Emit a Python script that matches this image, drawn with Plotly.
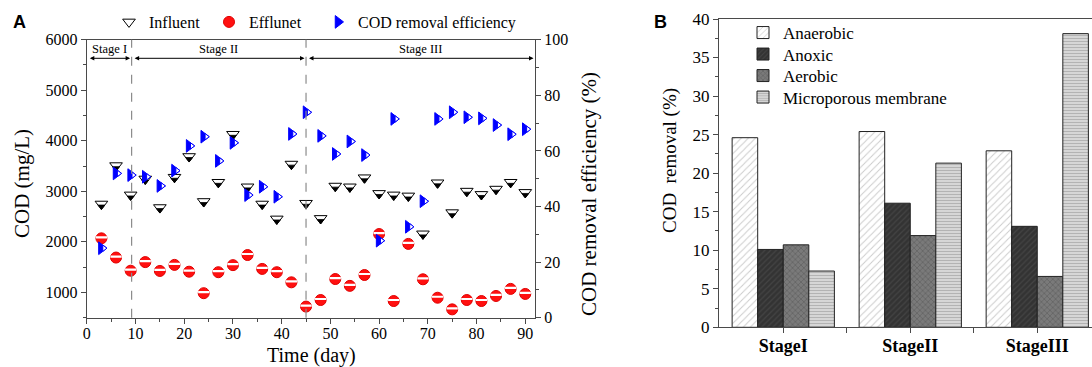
import plotly.graph_objects as go

# ---------------- data ----------------
days = [3, 6, 9, 12, 15, 18, 21, 24, 27, 30, 33, 36, 39, 42, 45,
        48, 51, 54, 57, 60, 63, 66, 69, 72, 75, 78, 81, 84, 87, 90]
influent = [2750, 3510, 2930, 3245, 2680, 3280, 3690, 2800, 3180, 4130, 3090, 2750, 2455, 3540, 2765,
            2465, 3105, 3090, 3270, 2960, 2930, 2910, 2160, 3170, 2580, 3005, 2940, 3045, 3180, 2980]
effluent = [2070, 1690, 1430, 1600, 1425, 1545, 1410, 985, 1400, 1540, 1740, 1465, 1400, 1200, 720,
            850, 1265, 1130, 1345, 2155, 830, 1960, 1260, 895, 665, 850, 830, 930, 1070, 970]
removal = [25.0, 51.9, 51.3, 50.7, 47.4, 52.9, 61.8, 65.1, 56.4, 62.9, 44.1, 47.1, 43.5, 66.1, 73.9,
           65.4, 58.9, 63.4, 58.5, 27.7, 71.5, 32.7, 41.9, 71.5, 73.9, 72.1, 71.7, 69.3, 66.0, 67.8]

stage_names = ["Stage I", "Stage II", "Stage III"]
stage_bounds = [0, 9.2, 45, 92]

stages = ["StageI", "StageII", "StageIII"]
anaerobic = [24.6, 25.4, 22.9]
anoxic = [10.1, 16.1, 13.1]
aerobic = [10.7, 11.9, 6.6]
membrane = [7.3, 21.3, 38.1]

# ---------------- geometry ----------------
W, H = 1092, 367
A_left, A_right, A_top, A_bot = 86.8, 535.0, 39.7, 317.7
B_left, B_right, B_top, B_bot = 719.0, 1092.0, 19.0, 327.3
XR = [0, 92]
YR = [500, 6000]
Y2R = [0, 100]
px_x = (XR[1] - XR[0]) / (A_right - A_left)
px_y = (YR[1] - YR[0]) / (A_bot - A_top)

SERIF = "Liberation Serif"
SANS = "Liberation Sans"
AX = "#4a4a4a"


def px(x):
    return x / W


def py(y):
    return 1 - y / H


fig = go.Figure()

# Influent: open triangle with black lower part
fig.add_trace(go.Scatter(
    x=days, y=influent, mode="markers", name="Influent", legend="legend",
    marker=dict(symbol="triangle-down", size=11, color="white",
                line=dict(color="black", width=1))))
fig.add_trace(go.Scatter(
    x=days, y=[v - 2.6 * px_y for v in influent], mode="markers", showlegend=False,
    hoverinfo="skip",
    marker=dict(symbol="triangle-down", size=6, color="black",
                line=dict(color="black", width=0.8))))

# Effluent: red circle with white band
fig.add_trace(go.Scatter(
    x=days, y=effluent, mode="markers", name="Efflunet", legend="legend3",
    marker=dict(symbol="circle", size=11, color="#ff1010",
                line=dict(color="#e00000", width=1))))
fig.add_trace(go.Scatter(
    x=days, y=[v + 1.0 * px_y for v in effluent], mode="markers", showlegend=False,
    hoverinfo="skip",
    marker=dict(symbol="line-ew", size=8, color="white",
                line=dict(color="white", width=2.2))))

# COD removal efficiency: blue triangle, left half filled
fig.add_trace(go.Scatter(
    x=days, y=removal, mode="markers", name="COD removal efficiency", legend="legend4",
    yaxis="y2",
    marker=dict(symbol="triangle-right", size=11, color="#0000ff",
                line=dict(color="#0000ff", width=1))))
fig.add_trace(go.Scatter(
    x=[d + 2.75 * px_x for d in days], y=removal, mode="markers", showlegend=False,
    yaxis="y2", hoverinfo="skip",
    marker=dict(symbol="triangle-right", size=5.5, color="white",
                line=dict(color="#0000ff", width=1))))

# ---------------- panel B bars ----------------
bar_specs = [
    ("Anaerobic", anaerobic, dict(shape="/", bgcolor="white", fgcolor="#9a9a9a", size=5, solidity=0.2)),
    ("Anoxic", anoxic, dict(shape="/", bgcolor="#333333", fgcolor="#555555", size=4, solidity=0.3)),
    ("Aerobic", aerobic, dict(shape="x", bgcolor="#7a7a7a", fgcolor="#4a4a4a", size=4, solidity=0.35)),
    ("Microporous membrane", membrane, dict(shape="-", bgcolor="#d6d6d6", fgcolor="#8a8a8a", size=3, solidity=0.3)),
]
bar_legends = ["legend2", "legend5", "legend6", "legend7"]
for (name, vals, pat), lg in zip(bar_specs, bar_legends):
    fig.add_trace(go.Bar(
        x=[0, 1, 2], y=vals, name=name, xaxis="x2", yaxis="y3", legend=lg,
        marker=dict(color=pat["bgcolor"], line=dict(color="#222222", width=1), pattern=pat)))

# ---------------- shapes & annotations ----------------
shapes = []
for b in stage_bounds[1:-1]:
    shapes.append(dict(type="line", xref="x", yref="y domain", x0=b, x1=b, y0=0, y1=1,
                       line=dict(color="#8c8c8c", width=1.2, dash="dash")))

annotations = []
arrow_y = (A_bot - 58.3) / (A_bot - A_top)
text_y = (A_bot - 48.5) / (A_bot - A_top)
for i, nm in enumerate(stage_names):
    x0, x1 = stage_bounds[i], stage_bounds[i + 1]
    annotations.append(dict(x=(x0 + x1) / 2, y=text_y, xref="x", yref="y domain", text=nm,
                            xanchor="center", yanchor="middle",
                            showarrow=False, font=dict(family=SERIF, size=12.5, color="black")))
    annotations.append(dict(x=x1, y=arrow_y, ax=x0, ay=arrow_y, xref="x", yref="y domain",
                            axref="x", ayref="y domain", text="", showarrow=True,
                            arrowhead=2, startarrowhead=2, arrowside="end+start",
                            arrowsize=0.9, startarrowsize=0.9, arrowwidth=1, arrowcolor="black",
                            standoff=1.5, startstandoff=1.5))

annotations += [
    dict(x=px(19), y=py(22), text="<b>A</b>", font=dict(family=SANS, size=18)),
    dict(x=px(660), y=py(22), text="<b>B</b>", font=dict(family=SANS, size=18)),
    dict(x=px(311), y=py(355), text="Time (day)", font=dict(family=SERIF, size=20)),
    dict(x=px(22), y=py(184), text="COD (mg/L)", textangle=-90, font=dict(family=SERIF, size=21)),
    dict(x=px(589), y=py(194), text="COD removal efficiency (%)", textangle=-90,
         font=dict(family=SERIF, size=21)),
    dict(x=px(670), y=py(161), text="COD\u00a0 removal (%)", textangle=-90,
         font=dict(family=SERIF, size=19)),
]
for a in annotations[-6:]:
    a.update(xref="paper", yref="paper", showarrow=False, xanchor="center", yanchor="middle")
    a["font"]["color"] = "black"

axis_common = dict(showgrid=False, zeroline=False, showline=True, linecolor=AX, linewidth=1.3,
                   ticks="outside", ticklen=5, tickwidth=1.2, tickcolor=AX, automargin=False,
                   tickfont=dict(family=SERIF, size=16, color="black"))

legend_common = dict(orientation="v", xanchor="left", yanchor="middle", bgcolor="rgba(0,0,0,0)",
                     borderwidth=0)
legA_font = dict(family=SERIF, size=16, color="black")
legB_font = dict(family=SERIF, size=17, color="black")

fig.update_layout(
    width=W, height=H, margin=dict(l=0, r=0, t=0, b=0, autoexpand=False),
    paper_bgcolor="white", plot_bgcolor="white",
    font=dict(family=SERIF, color="black"),
    barmode="group", bargap=0.195, bargroupgap=0,
    shapes=shapes, annotations=annotations,
    xaxis=dict(axis_common, domain=[px(A_left), px(A_right)], range=XR, anchor="y",
               tick0=0, dtick=10, mirror=True, ticklabelstandoff=-4,
               minor=dict(dtick=5, ticks="outside", ticklen=3, tickcolor=AX)),
    yaxis=dict(axis_common, domain=[py(A_bot), py(A_top)], range=YR, anchor="x",
               tick0=0, dtick=1000,
               minor=dict(dtick=500, ticks="outside", ticklen=3, tickcolor=AX)),
    yaxis2=dict(axis_common, overlaying="y", side="right", anchor="x", range=Y2R,
                tick0=0, dtick=20,
                minor=dict(dtick=10, ticks="outside", ticklen=3, tickcolor=AX)),
    xaxis2=dict(axis_common, domain=[px(B_left), 1], range=[-0.506, 2.431], anchor="y3",
                tickvals=[0, 0.5, 1, 1.5, 2], ticktext=["StageI", "", "StageII", "", "StageIII"],
                mirror=True, ticklabelstandoff=-3,
                tickfont=dict(family=SERIF, size=18, color="black", weight="bold")),
    yaxis3=dict(axis_common, domain=[py(B_bot), py(B_top)], range=[0, 40], anchor="x2",
                tick0=0, dtick=5,
                minor=dict(dtick=2.5, ticks="outside", ticklen=3, tickcolor=AX),
                tickfont=dict(family=SERIF, size=17, color="black")),
    legend=dict(legend_common, x=px(128 - 19), y=py(22), font=legA_font),
    legend3=dict(legend_common, x=px(228 - 19), y=py(22), font=legA_font),
    legend4=dict(legend_common, x=px(337 - 19), y=py(22), font=legA_font),
    legend2=dict(legend_common, x=px(765 - 22), y=py(33), font=legB_font),
    legend5=dict(legend_common, x=px(765 - 22), y=py(54.5), font=legB_font),
    legend6=dict(legend_common, x=px(765 - 22), y=py(76), font=legB_font),
    legend7=dict(legend_common, x=px(765 - 22), y=py(97.5), font=legB_font),
)

fig.write_html("out.html")
